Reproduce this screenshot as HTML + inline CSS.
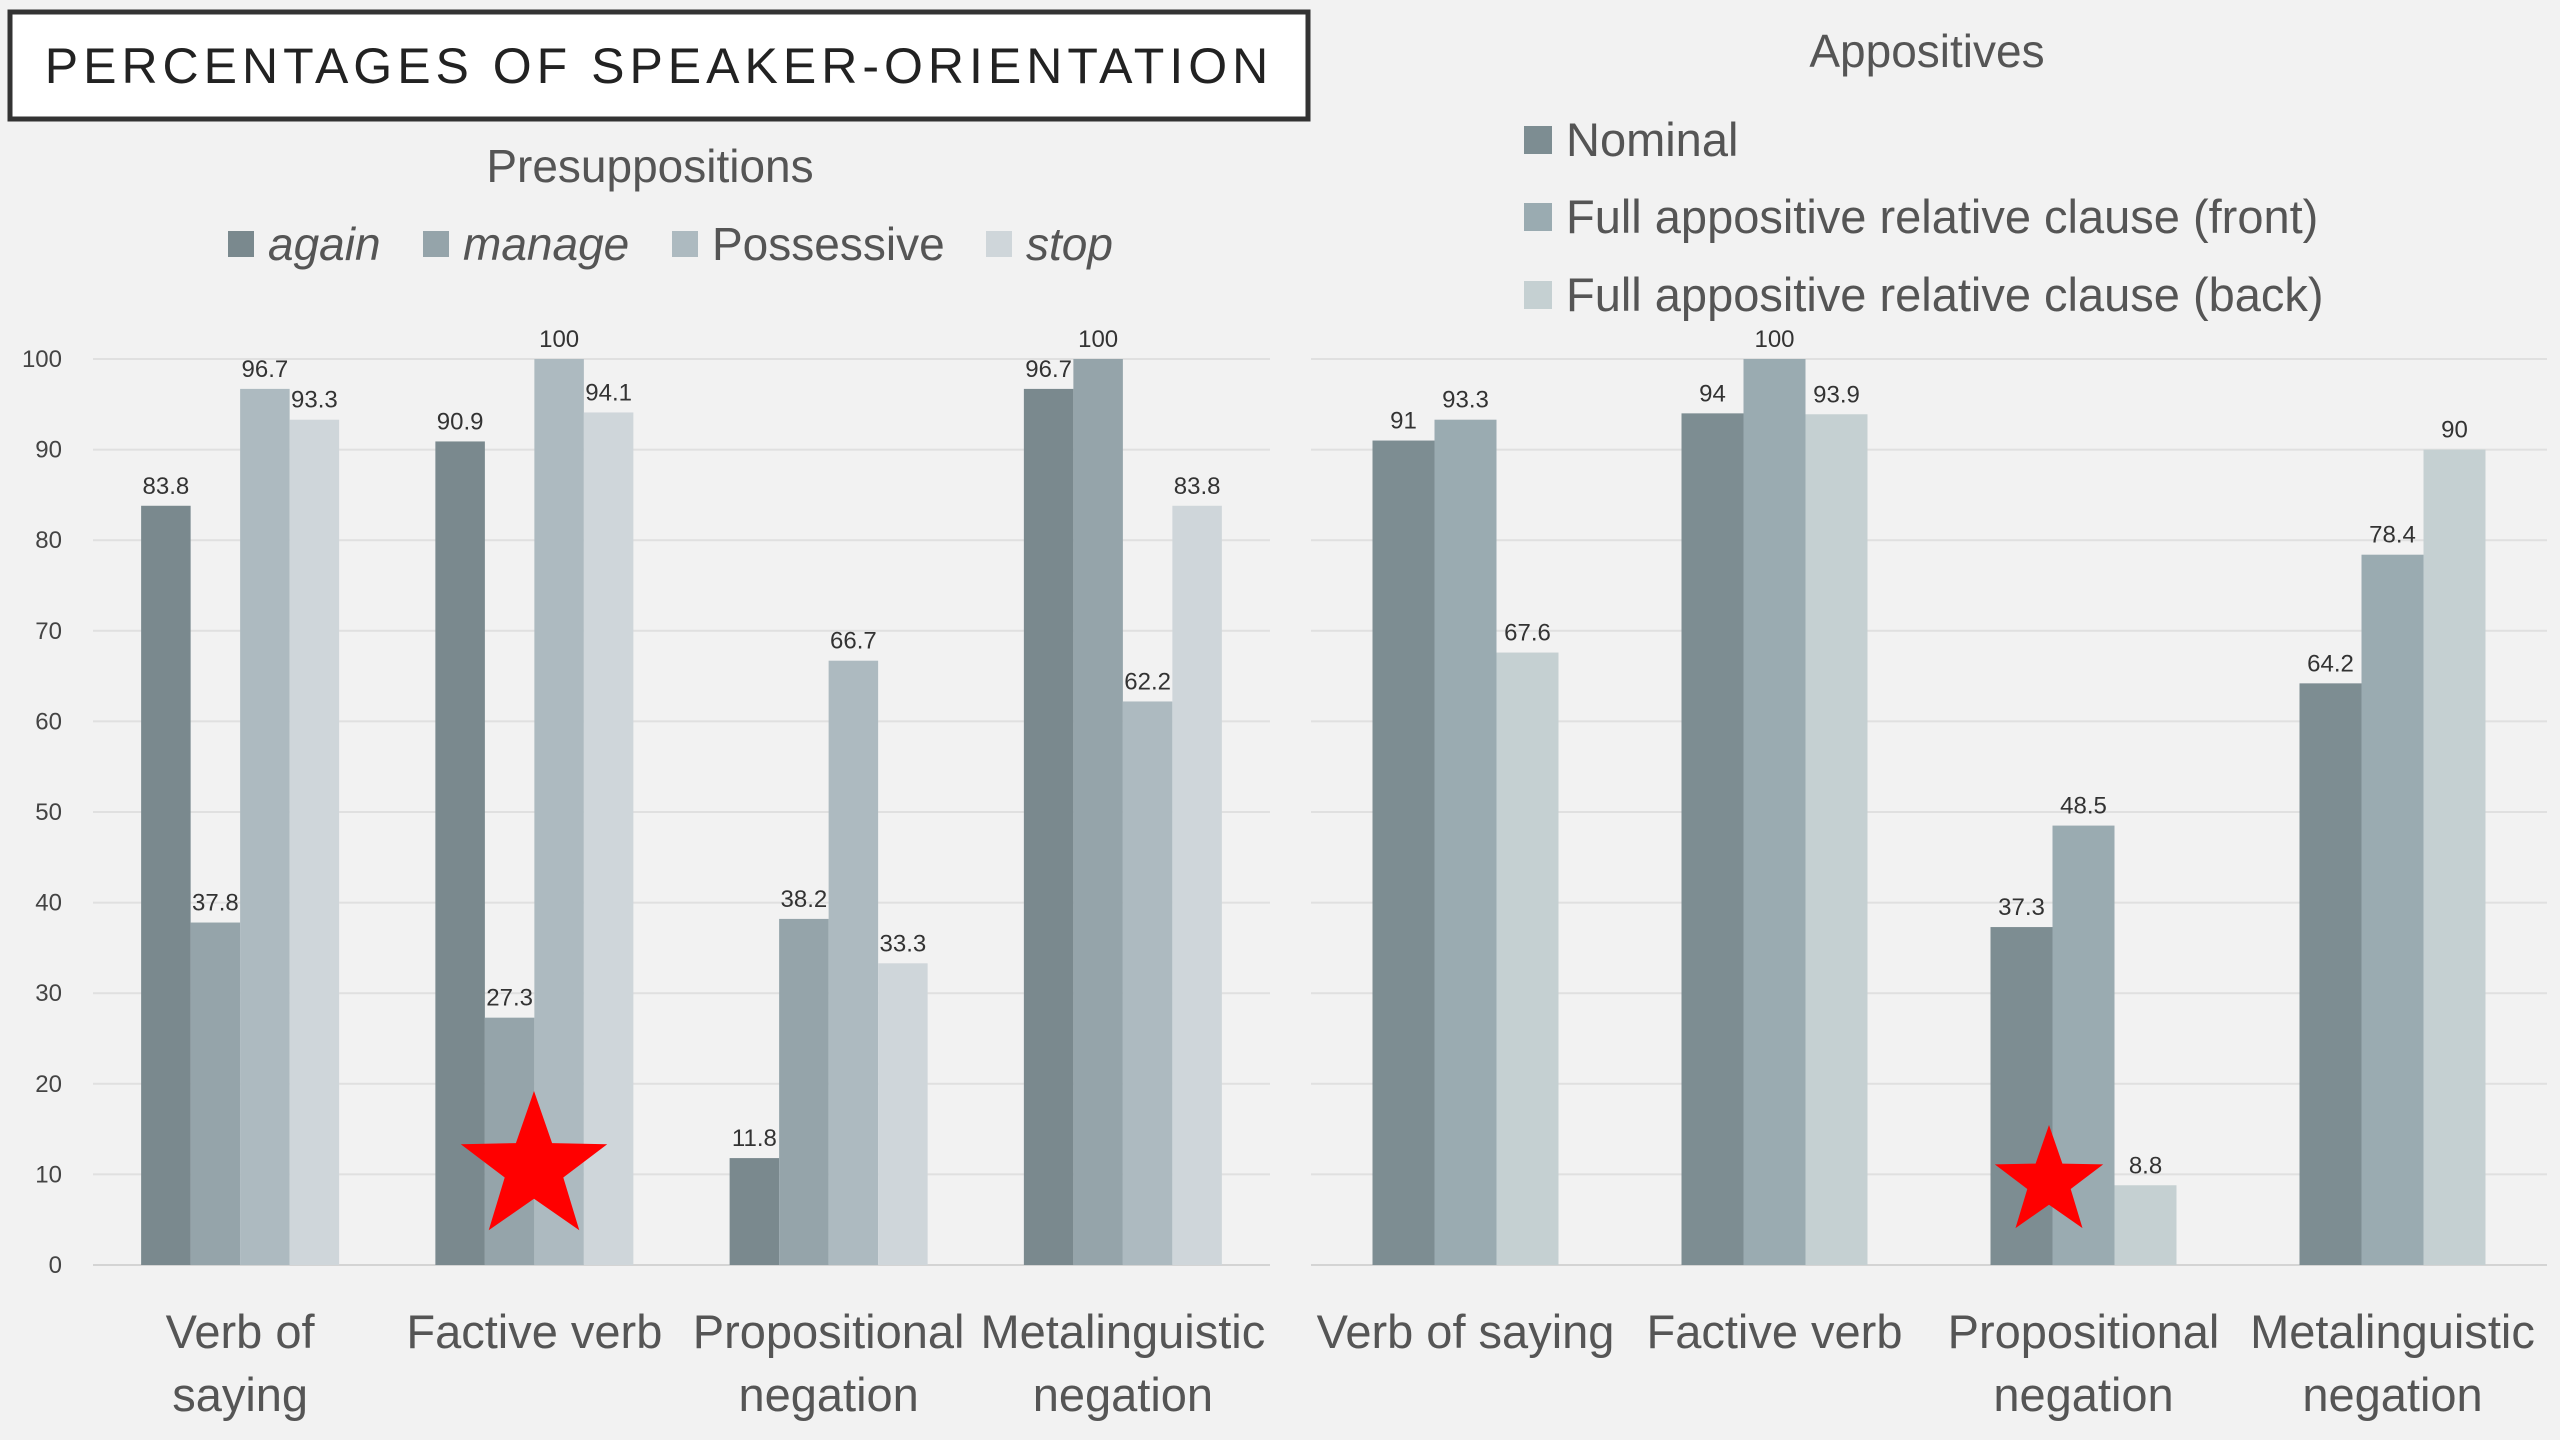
<!DOCTYPE html>
<html><head><meta charset="utf-8"><style>
body{margin:0;background:#f2f2f2;}
svg{display:block;font-family:"Liberation Sans",sans-serif;}
</style></head><body>
<svg id="c" width="2560" height="1440" viewBox="0 0 2560 1440" xmlns="http://www.w3.org/2000/svg">
<rect x="0" y="0" width="2560" height="1440" fill="#f2f2f2"/>
<rect x="10" y="12" width="1298" height="107" fill="#fff" stroke="#333" stroke-width="5"/>
<text x="659" y="83" text-anchor="middle" font-size="50" fill="#222" letter-spacing="5">PERCENTAGES OF SPEAKER-ORIENTATION</text>
<text x="650" y="182" text-anchor="middle" font-size="46" fill="#555">Presuppositions</text>
<text x="1927" y="67" text-anchor="middle" font-size="46" fill="#555">Appositives</text>
<g id="lg"></g>
<g id="rg"></g>
</svg>
<script>
const leftCategories=[["Verb of","saying"],["Factive verb"],["Propositional","negation"],["Metalinguistic","negation"]];
const leftSeriesNames=["again","manage","Possessive","stop"];
const leftAgain=[83.8,90.9,11.8,96.7];
const leftManage=[37.8,27.3,38.2,100];
const leftPossessive=[96.7,100,66.7,62.2];
const leftStop=[93.3,94.1,33.3,83.8];
const rightCategories=[["Verb of saying"],["Factive verb"],["Propositional","negation"],["Metalinguistic","negation"]];
const rightSeriesNames=["Nominal","Full appositive relative clause (front)","Full appositive relative clause (back)"];
const rightNominal=[91,94,37.3,64.2];
const rightFront=[93.3,100,48.5,78.4];
const rightBack=[67.6,93.9,8.8,90];
const yTicks=[0,10,20,30,40,50,60,70,80,90,100];

const NS="http://www.w3.org/2000/svg";
function mk(parent,tag,attrs,txt){const e=document.createElementNS(NS,tag);for(const k in attrs)e.setAttribute(k,attrs[k]);if(txt!==undefined)e.textContent=txt;parent.appendChild(e);return e;}
const y0=1265,y100=359;
function yScale(v){return y0-(y0-y100)*v/100;}

function drawChart(g,opts){
  const {x0,x1,cats,series,colors,barW,italic,showTicks,prefix}=opts;
  yTicks.forEach(t=>{
    const l=mk(g,'line',{x1:x0,x2:x1,y1:yScale(t),y2:yScale(t),stroke:t===0?'#d4d4d4':'#e0e0e0','stroke-width':2});
    
    
    if(showTicks){
      const tx=mk(g,'text',{x:62,y:yScale(t)+8,'text-anchor':'end','font-size':24,fill:'#444'},String(t));
      
      
    }
  });
  const band=(x1-x0)/cats.length;
  const n=series.length;
  cats.forEach((c,i)=>{
    const gx=x0+band*i+(band-barW*n)/2;
    series.forEach((s,j)=>{
      const v=s[i];const bx=gx+barW*j;
      const r=mk(g,'rect',{x:bx,y:yScale(v),width:barW,height:y0-yScale(v),fill:colors[j]});
      
      
      const tx=mk(g,'text',{x:bx+barW/2,y:yScale(v)-12,'text-anchor':'middle','font-size':24,fill:'#333'},String(v));
      
      
    });
    c.forEach((line,k)=>{
      const tx=mk(g,'text',{x:x0+band*(i+0.5),y:1348+k*63,'text-anchor':'middle','font-size':47,fill:'#555'},line);
      
      
    });
  });
}
function star(g,cx,cy,R,name){
  let pts=[];for(let k=0;k<10;k++){const r=k%2?R*0.4:R;const a=-Math.PI/2+k*Math.PI/5;pts.push((cx+r*Math.cos(a)).toFixed(1)+','+(cy+r*Math.sin(a)).toFixed(1));}
  const p=mk(g,'polygon',{points:pts.join(' '),fill:'#ff0000'});
  
  
}
const lc=["#7a898e","#95a4aa","#adbac0","#cfd6da"];
const rc=["#7d8d92","#9aabb1","#c5d0d2"];
const lg=document.getElementById('lg'),rg=document.getElementById('rg');
drawChart(lg,{x0:93,x1:1270,cats:leftCategories,series:[leftAgain,leftManage,leftPossessive,leftStop],colors:lc,barW:49.5,showTicks:true,prefix:'left'});
drawChart(rg,{x0:1311,x1:2547,cats:rightCategories,series:[rightNominal,rightFront,rightBack],colors:rc,barW:62,showTicks:false,prefix:'right'});
// left legend
const lgx=[228,423,672,986];
leftSeriesNames.forEach((s,j)=>{
  const r=mk(lg,'rect',{x:lgx[j],y:231,width:26,height:26,fill:lc[j]});
  
  
  const t=mk(lg,'text',{x:lgx[j]+40,y:260,'font-size':46,fill:'#555','font-style':s==='Possessive'?'normal':'italic'},s);
  
  
});
const rly=[140,217,295];
rightSeriesNames.forEach((s,j)=>{
  const r=mk(rg,'rect',{x:1524,y:rly[j]-14,width:28,height:28,fill:rc[j]});
  
  
  const t=mk(rg,'text',{x:1566,y:rly[j]+16,'font-size':47,fill:'#555'},s);
  
  
});
star(lg,534,1168,77,'left-star-marker');
star(rg,2049,1182,57,'right-star-marker');
</script>
</body></html>
